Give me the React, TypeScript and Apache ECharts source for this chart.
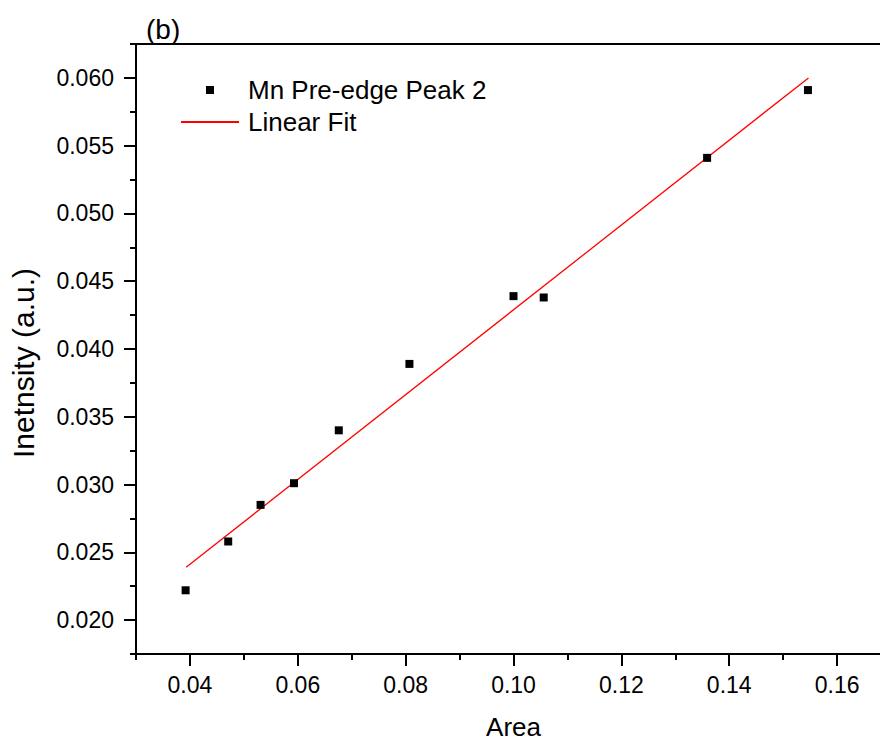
import React, { useEffect, useRef } from "react";
import * as echarts from "echarts";

// Measured peak areas and intensities for the Mn pre-edge peak 2
const areaValues = [0.0392, 0.0471, 0.0531, 0.0593, 0.0676, 0.0807, 0.1, 0.1056, 0.1359, 0.1546];
const intensityValues = [0.0222, 0.0258, 0.0285, 0.0301, 0.034, 0.0389, 0.0439, 0.0438, 0.0541, 0.0591];

// Linear fit end points
const fitArea = [0.0393, 0.1547];
const fitIntensity = [0.0239, 0.06];

// Axis ranges and tick positions
const xRange = [0.03, 0.17];
const yRange = [0.0175, 0.0625];
const xMajorTicks = [0.04, 0.06, 0.08, 0.1, 0.12, 0.14, 0.16];
const xMinorTicks = [0.03, 0.05, 0.07, 0.09, 0.11, 0.13, 0.15, 0.17];
const yMajorTicks = [0.02, 0.025, 0.03, 0.035, 0.04, 0.045, 0.05, 0.055, 0.06];
const yMinorTicks = [0.0175, 0.0225, 0.0275, 0.0325, 0.0375, 0.0425, 0.0475, 0.0525, 0.0575, 0.0625];

const FONT = "'Liberation Sans', Arial, sans-serif";

export default function App() {
  const ref = useRef<HTMLDivElement>(null);

  useEffect(() => {
    if (!ref.current) return;
    const chart = echarts.init(ref.current, null, { renderer: "svg" });

    const axisLine = { show: true, lineStyle: { color: "#000", width: 2 } };

    chart.setOption({
      animation: false,
      backgroundColor: "#fff",
      textStyle: { fontFamily: FONT, color: "#000" },
      title: {
        text: "(b)",
        left: 146,
        top: 15,
        padding: 0,
        textStyle: { fontFamily: FONT, fontSize: 28, fontWeight: "normal", color: "#000" },
      },
      legend: {
        left: 180,
        top: 77,
        padding: 0,
        orient: "vertical",
        itemWidth: 58,
        itemHeight: 8,
        itemGap: 6,
        textStyle: { fontFamily: FONT, fontSize: 26, color: "#000", padding: [0, 0, 0, 4] },
        data: [
          { name: "Mn Pre-edge Peak 2", icon: "path://M0,0H1V1H0Z", itemStyle: { color: "#000", opacity: 1 } },
          { name: "Linear Fit", itemStyle: { opacity: 0 } },
        ],
      },
      grid: {
        left: 136,
        right: 9,
        top: 44,
        bottom: 88,
        containLabel: false,
        outerBoundsMode: "none",
        show: true,
        borderColor: "#000",
        borderWidth: 2,
        backgroundColor: "transparent",
      },
      xAxis: [
        {
          type: "value",
          position: "bottom",
          min: xRange[0],
          max: xRange[1],
          name: "Area",
          nameLocation: "middle",
          nameGap: 63,
          nameTextStyle: { fontFamily: FONT, fontSize: 26, lineHeight: 20, color: "#000" },
          axisLine,
          axisTick: {
            show: true,
            inside: false,
            length: 12,
            lineStyle: { color: "#000", width: 2 },
            customValues: xMajorTicks,
          },
          axisLabel: {
            margin: 19,
            fontFamily: FONT,
            fontSize: 23,
            color: "#000",
            customValues: xMajorTicks,
            formatter: (v: number) => v.toFixed(2),
          },
          splitLine: { show: false },
        },
        {
          type: "value",
          position: "bottom",
          min: xRange[0],
          max: xRange[1],
          axisLine: { show: false },
          axisTick: {
            show: true,
            inside: false,
            length: 6,
            lineStyle: { color: "#000", width: 2 },
            customValues: xMinorTicks,
          },
          axisLabel: { show: false },
          splitLine: { show: false },
        },
      ],
      yAxis: [
        {
          type: "value",
          position: "left",
          min: yRange[0],
          max: yRange[1],
          name: "Inetnsity (a.u.)",
          nameLocation: "middle",
          nameGap: 98,
          nameTextStyle: { fontFamily: FONT, fontSize: 30, color: "#000", padding: [0, 28, 0, 0] },
          axisLine,
          axisTick: {
            show: true,
            inside: false,
            length: 12,
            lineStyle: { color: "#000", width: 2 },
            customValues: yMajorTicks,
          },
          axisLabel: {
            margin: 22,
            fontFamily: FONT,
            fontSize: 23,
            color: "#000",
            customValues: yMajorTicks,
            formatter: (v: number) => v.toFixed(3),
          },
          splitLine: { show: false },
        },
        {
          type: "value",
          position: "left",
          min: yRange[0],
          max: yRange[1],
          axisLine: { show: false },
          axisTick: {
            show: true,
            inside: false,
            length: 6,
            lineStyle: { color: "#000", width: 2 },
            customValues: yMinorTicks,
          },
          axisLabel: { show: false },
          splitLine: { show: false },
        },
      ],
      series: [
        {
          name: "Mn Pre-edge Peak 2",
          type: "scatter",
          xAxisIndex: 0,
          yAxisIndex: 0,
          symbol: "rect",
          symbolSize: 8,
          itemStyle: { color: "#000", opacity: 1 },
          data: areaValues.map((a, i) => [a, intensityValues[i]]),
          z: 3,
        },
        {
          name: "Linear Fit",
          type: "line",
          xAxisIndex: 0,
          yAxisIndex: 0,
          symbol: "none",
          showSymbol: false,
          lineStyle: { color: "#ff0000", width: 1.3 },
          itemStyle: { color: "#ff0000" },
          data: fitArea.map((a, i) => [a, fitIntensity[i]]),
          z: 2,
        },
      ],
    });

    return () => chart.dispose();
  }, []);

  return (
    <div
      style={{
        position: "absolute",
        left: 0,
        top: 0,
        width: 880,
        height: 742,
        overflow: "hidden",
        background: "#fff",
      }}
    >
      <div ref={ref} style={{ width: 900, height: 742 }} />
    </div>
  );
}
